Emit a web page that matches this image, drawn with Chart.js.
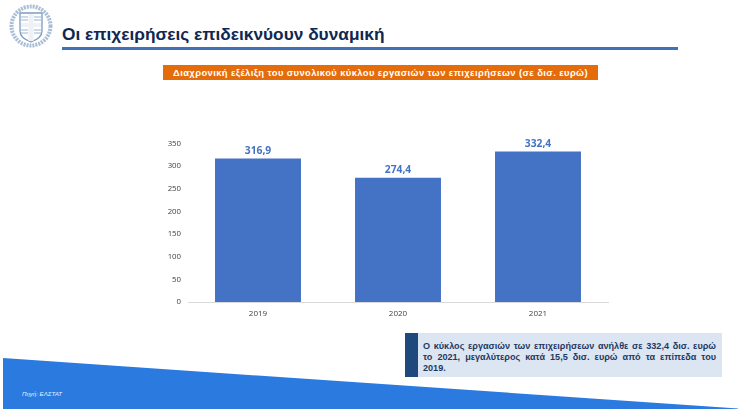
<!DOCTYPE html>
<html>
<head>
<meta charset="utf-8">
<script src="https://cdn.jsdelivr.net/npm/chart.js@4"></script>
<style>
  html, body { margin: 0; padding: 0; background: #fff; }
  #page { position: relative; width: 738px; height: 412px; overflow: hidden; font-family: "Liberation Sans", Arial, sans-serif; }
  #page > * { position: absolute; }
  #emblem { left: 9px; top: 4px; }
  #title { left: 62px; top: 24px; font-size: 17.3px; font-weight: bold; color: #10284f; white-space: nowrap; }
  #titleLine { left: 62px; top: 47px; width: 616px; height: 2.5px; background: #3f72b8; }
  #subtitle { left: 163px; top: 65px; width: 435px; height: 15px; line-height: 15px; background: #e46c0a; color: #fff; font-size: 9.4px; font-weight: bold; text-align: center; letter-spacing: 0.41px; white-space: nowrap; }
  #chartWrap { left: 150px; top: 130px; width: 470px; height: 190px; }
  #note { left: 405px; top: 333px; width: 317px; height: 44px; background: #dce6f2; }
  #noteBar { position: absolute; left: 0; top: 0; width: 13px; height: 44px; background: #1f497d; }
  #noteText { position: absolute; left: 18px; top: 7.5px; width: 293px; font-size: 9.1px; line-height: 11px; font-weight: bold; color: #1f3864; text-align: justify; }
  #wedge { left: 0; top: 0; }
  #source { left: 22px; top: 389.5px; font-size: 6.1px; font-style: italic; color: #e8f0fb; }
</style>
</head>
<body>
<div id="page">
  <svg id="wedge" width="738" height="412"><polygon points="3,358 738,408.5 738,409 3,409" fill="#2a7ae0"/></svg>
  <svg id="emblem" width="44" height="44" viewBox="0 0 44 44">
    <circle cx="22" cy="22" r="19.5" fill="none" stroke="#a9bdd6" stroke-width="4" stroke-dasharray="2 1"/>
    <path d="M11 9 H33 V27 Q33 34 22 38 Q11 34 11 27 Z" fill="#fff" stroke="#7d9bc2" stroke-width="1.3"/>
    <path d="M19.5 10 H24.5 V19 H32 V23 H24.5 V37 H19.5 V23 H12 V19 H19.5 Z" fill="#eef2f7"/>
    <path d="M12 13 H19 M12 16 H19 M25 13 H32 M25 16 H32 M12 26 H19 M12 29 H19 M25 26 H32 M25 29 H32" stroke="#9fb5d2" stroke-width="1.1"/>
  </svg>
  <div id="title">Οι επιχειρήσεις επιδεικνύουν δυναμική</div>
  <div id="titleLine"></div>
  <div id="subtitle">Διαχρονική εξέλιξη του συνολικού κύκλου εργασιών των επιχειρήσεων (σε δισ. ευρώ)</div>
  <div id="chartWrap"><canvas id="myChart"></canvas></div>
  <div id="note">
    <div id="noteBar"></div>
    <div id="noteText">Ο κύκλος εργασιών των επιχειρήσεων ανήλθε σε 332,4 δισ. ευρώ το 2021, μεγαλύτερος κατά 15,5 δισ. ευρώ από τα επίπεδα του 2019.</div>
  </div>
  <div id="source">Πηγή: ΕΛΣΤΑΤ</div>
</div>
<script>
const years = ["2019", "2020", "2021"];
const turnover = [316.9, 274.4, 332.4];

const ctx = document.getElementById("myChart").getContext("2d");

// values above the bars, with a decimal comma
const barLabels = {
  id: "barLabels",
  afterDatasetsDraw(chart) {
    const c = chart.ctx;
    c.save();
    c.font = "bold 10.3px 'Open Sans', sans-serif";
    c.fillStyle = "#4472c4";
    c.textAlign = "center";
    c.textBaseline = "bottom";
    chart.getDatasetMeta(0).data.forEach((bar, i) => {
      c.fillText(turnover[i].toFixed(1).replace(".", ","), bar.x, bar.y - 2.5);
    });
    c.restore();
  },
};

new Chart(ctx, {
  type: "bar",
  data: {
    labels: years,
    datasets: [
      {
        data: turnover,
        backgroundColor: "#4472c4",
        barPercentage: 0.614,
        categoryPercentage: 1,
      },
    ],
  },
  options: {
    responsive: true,
    maintainAspectRatio: false,
    animation: false,
    layout: { padding: { top: 13.5, right: 12 } },
    plugins: { legend: { display: false }, tooltip: { enabled: false } },
    scales: {
      x: {
        grid: { display: false, drawTicks: false },
        border: { color: "#d9d9d9", width: 1 },
        ticks: { color: "#404040", font: { size: 8, family: "'Open Sans', sans-serif" }, padding: 7 },
        afterFit: (axis) => { axis.height = 18; },
      },
      y: {
        min: 0,
        max: 350,
        grid: { display: false, drawTicks: false },
        border: { display: false },
        ticks: { stepSize: 50, color: "#404040", font: { size: 7.8, family: "'Open Sans', sans-serif" }, padding: 7 },
        afterFit: (axis) => { axis.width = 38; },
      },
    },
  },
  plugins: [barLabels],
});
</script>
</body>
</html>
